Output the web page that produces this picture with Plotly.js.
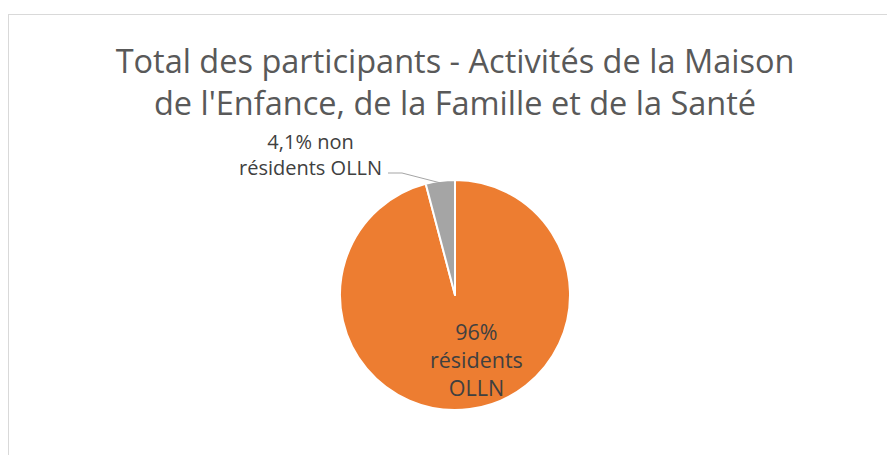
<!DOCTYPE html>
<html><head><meta charset="utf-8">
<script src="https://cdn.plot.ly/plotly-3.0.1.min.js"></script>
<style>
html,body{margin:0;padding:0;background:#fff;overflow:hidden}
#frame{position:absolute;left:8px;top:14px;width:900px;height:460px;border-left:1px solid #d9d9d9;border-top:1px solid #d9d9d9}
#chart{position:absolute;left:0;top:0;width:887px;height:455px}
</style></head>
<body>
<div id="frame"></div>
<div id="chart"></div>
<script>
const categories = ["résidents OLLN", "non résidents OLLN"];
const values = [95.9, 4.1];
const colors = ["#ED7D31", "#A5A5A5"];
const titleText = "Total des participants - Activités de la Maison<br>de l'Enfance, de la Famille et de la Santé";

const W = 887, H = 455;
const cx = 455, cy = 295, r = 115;
const dom = {x: [(cx - r) / W, (cx + r) / W], y: [(H - cy - r) / H, (H - cy + r) / H]};

const total = values.reduce((a, b) => a + b, 0);
const pct = values.map(v => v / total * 100);
const fmt = (p, d) => p.toFixed(d).replace(".", ",") + "%";

// tip of the leader line: middle of the small slice on the pie edge
const midFrac = (values[0] + values[1] / 2) / total; // clockwise from top
const ang = midFrac * 2 * Math.PI;
const tipX = cx + (r - 2) * Math.sin(ang), tipY = cy - (r - 2) * Math.cos(ang);

const trace = {
  type: "pie",
  labels: categories,
  values: values,
  sort: false,
  direction: "clockwise",
  rotation: 0,
  domain: dom,
  marker: {colors: colors, line: {color: "#ffffff", width: 2}},
  textinfo: "none",
  hoverinfo: "label+percent",
  showlegend: false
};

const labelFont = {family: "Open Sans, sans-serif", color: "#404040"};

const layout = {
  width: W, height: H,
  margin: {l: 0, r: 0, t: 0, b: 0},
  paper_bgcolor: "rgba(0,0,0,0)",
  title: {
    text: titleText,
    font: {family: "Open Sans, sans-serif", size: 32.5, color: "#595959"},
    x: cx / W, xanchor: "center", xref: "paper",
    y: 1 - 73 / H, yanchor: "top", yref: "container"
  },
  annotations: [{
    text: fmt(pct[0], 0) + "<br>" + categories[0].replace(" ", "<br>"),
    xref: "paper", yref: "paper",
    x: 476 / W, y: 1 - 359 / H, xanchor: "center", yanchor: "middle",
    showarrow: false,
    font: Object.assign({size: 21.5}, labelFont)
  }, {
    text: fmt(pct[1], 1) + " " + categories[1].replace("résidents", "<br>résidents").replace("non <br>", "non<br>"),
    xref: "paper", yref: "paper",
    x: 310 / W, y: 1 - 154 / H, xanchor: "center", yanchor: "middle",
    showarrow: false,
    font: Object.assign({size: 20}, labelFont)
  }],
  shapes: [{
    type: "path", xref: "paper", yref: "paper",
    path: `M ${388 / W} ${1 - 173 / H} L ${402 / W} ${1 - 173 / H} L ${tipX / W} ${1 - tipY / H}`,
    line: {color: "#A5A5A5", width: 1}
  }]
};

Plotly.newPlot("chart", [trace], layout, {displayModeBar: false, staticPlot: true});
</script>
</body></html>
